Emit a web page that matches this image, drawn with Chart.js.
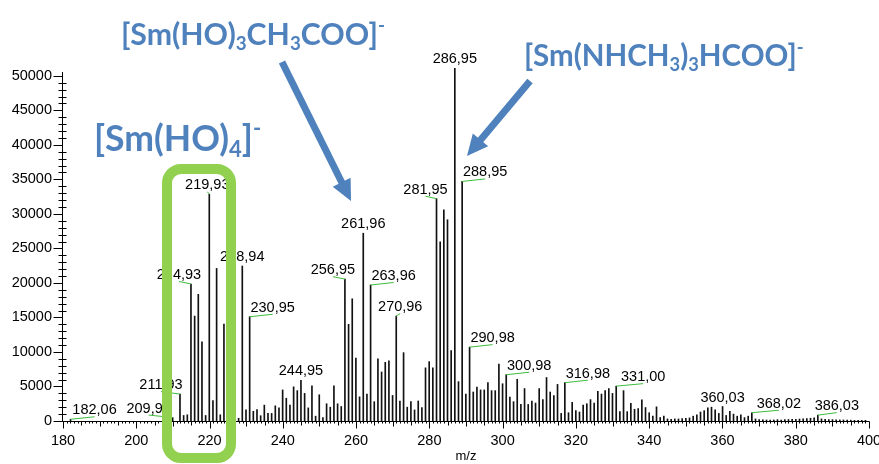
<!DOCTYPE html>
<html>
<head>
<meta charset="utf-8">
<script src="https://cdn.jsdelivr.net/npm/chart.js@4.4.1/dist/chart.umd.min.js"></script>
<style>
  html, body { margin: 0; padding: 0; background: #fff; }
  #wrap { width: 879px; height: 464px; }
</style>
</head>
<body>
<div id="wrap"><canvas id="spectrum" width="879" height="464"></canvas></div>
<script>
// m/z of each stick and its intensity
const mz = [
  182.06, 209.93, 211.93, 212.93, 213.93, 214.93, 215.93, 216.93, 217.93, 218.93,
  219.93, 220.93, 221.93, 222.93, 223.93, 224.93, 225.93, 226.93, 227.93, 228.94,
  229.95, 230.95, 231.95, 232.95, 233.95, 234.95, 235.95, 236.95, 237.95, 238.95,
  239.95, 240.95, 241.95, 242.95, 243.95, 244.95, 245.95, 246.95, 247.95, 248.95,
  249.95, 250.95, 251.95, 252.95, 253.95, 254.95, 255.95, 256.95, 257.95, 258.95,
  259.95, 260.95, 261.96, 262.96, 263.96, 264.96, 265.96, 266.96, 267.96, 268.96,
  269.96, 270.96, 271.96, 272.96, 273.96, 274.96, 275.96, 276.96, 277.96, 278.95,
  279.95, 280.95, 281.95, 282.95, 283.95, 284.95, 285.95, 286.95, 287.95, 288.95,
  289.96, 290.98, 291.98, 292.98, 293.98, 294.98, 295.98, 296.98, 297.98, 298.98,
  299.98, 300.98, 301.98, 302.98, 303.98, 304.98, 305.98, 306.98, 307.98, 308.98,
  309.98, 310.98, 311.98, 312.98, 313.98, 314.98, 315.98, 316.98, 317.98, 318.98,
  319.98, 320.98, 321.98, 322.98, 323.98, 324.98, 325.98, 326.98, 327.98, 328.98,
  329.98, 331.00, 332.00, 333.00, 334.00, 335.00, 336.00, 337.00, 338.00, 339.00,
  340.00, 341.00, 342.00, 343.00, 344.00, 345.00, 346.00, 347.00, 348.00, 349.00,
  350.01, 351.01, 352.01, 353.01, 354.01, 355.01, 356.01, 357.01, 358.01, 359.01,
  360.03, 361.02, 362.02, 363.02, 364.02, 365.02, 366.02, 367.02, 368.02, 369.02,
  370.02, 371.02, 372.02, 373.02, 374.02, 375.02, 376.02, 377.02, 378.02, 379.02,
  380.03, 381.03, 382.03, 383.03, 384.03, 385.03, 386.03, 387.03, 388.03, 389.03,
  390.03, 391.03, 392.03, 393.03, 394.03, 395.03, 396.03, 397.03, 398.03, 399.03
];
const intensity = [
  250, 500, 3900, 800, 900, 19850, 15200, 18350, 11450, 800,
  32850, 2950, 22100, 900, 14050, 600, 1000, 500, 400, 22450,
  1600, 15100, 1400, 1650, 770, 2300, 1100, 1100, 2200, 1900,
  4500, 3300, 2300, 4950, 4400, 5900, 4000, 1900, 5100, 700,
  3800, 500, 2500, 2000, 5100, 2500, 2100, 20550, 14000, 17700,
  9100, 3500, 27200, 3900, 19700, 2800, 9000, 7100, 8500, 8700,
  3700, 15200, 2900, 9900, 2000, 2800, 1600, 2900, 1950, 7700,
  8600, 7700, 32200, 25950, 30600, 29150, 10200, 51100, 5700, 34700,
  3900, 10700, 4200, 4900, 4500, 4500, 5550, 4400, 4400, 8250,
  5400, 6700, 3450, 2800, 6050, 2400, 4700, 2400, 2900, 2600,
  4700, 3100, 6300, 4200, 3700, 5300, 1100, 5550, 1200, 2700,
  1500, 1300, 2300, 2500, 3100, 2600, 4300, 3900, 4400, 4700,
  4000, 5050, 1350, 4400, 1350, 2550, 1700, 1800, 3050, 1950,
  1200, 700, 2050, 500, 700, 300, 250, 300, 300, 350,
  400, 450, 700, 900, 1300, 1500, 1900, 2000, 1600, 1100,
  2100, 800, 1400, 1000, 700, 900, 500, 700, 1200, 300,
  200, 180, 150, 150, 150, 200, 150, 200, 220, 250,
  250, 280, 300, 350, 400, 450, 850, 300, 250, 200,
  200, 180, 150, 150, 150, 120, 100, 100, 100, 100
];

// peaks that carry an m/z label
const labelledMz = [182.06, 209.93, 211.93, 214.93, 219.93, 228.94, 230.95, 244.95, 256.95, 261.96, 263.96,
                    270.96, 281.95, 286.95, 288.95, 290.98, 300.98, 316.98, 331.00, 360.03, 368.02, 386.03];

const xTickLabels = [180, 200, 220, 240, 260, 280, 300, 320, 340, 360, 380, 400];
const yTickLabels = [0, 5000, 10000, 15000, 20000, 25000, 30000, 35000, 40000, 45000, 50000];

// layout: horizontal shift of each label from its stick (px); 0 = straight above, no leader
const labelShift = [24, -24, -19, -12, -2, 0, 23, 0, -12, 0, 23, 4, -11, 0, 23, 23, 23, 23, 27, 0, 27, 19];

const BLUE = '#4F81BD';
const GREEN_BOX = '#92D050';
const LEADER = '#3DBB3D';
const AXIS_FONT = '"Liberation Sans", Arial, sans-serif';

function drawFormula(ctx, parts, x, baseline, width) {
  // scale font so that the text up to the closing bracket spans `width`
  const fam = 'Lato, "Open Sans", sans-serif';
  const measure = size => {
    let w = 0;
    parts.forEach(([t, k]) => {
      if (k === 'sup') return;
      ctx.font = `bold ${k === 'n' ? size : size * 0.62}px ${fam}`;
      w += ctx.measureText(t).width;
    });
    return w;
  };
  const size = 100 * width / measure(100);
  let cx = x;
  ctx.fillStyle = BLUE;
  ctx.textAlign = 'left';
  ctx.textBaseline = 'alphabetic';
  parts.forEach(([t, k]) => {
    const s = k === 'n' ? size : size * 0.62;
    ctx.font = `bold ${s}px ${fam}`;
    const dy = k === 'sub' ? size * 0.17 : (k === 'sup' ? -size * 0.42 : 0);
    ctx.fillText(t, cx, baseline + dy);
    cx += ctx.measureText(t).width;
  });
}

function drawArrow(ctx, x1, y1, x2, y2) {
  const ang = Math.atan2(y2 - y1, x2 - x1);
  const headLen = 21, headW = 10;
  const bx = x2 - headLen * Math.cos(ang), by = y2 - headLen * Math.sin(ang);
  ctx.strokeStyle = BLUE;
  ctx.fillStyle = BLUE;
  ctx.lineWidth = 7;
  ctx.lineCap = 'butt';
  ctx.beginPath();
  ctx.moveTo(x1, y1);
  ctx.lineTo(bx + 2 * Math.cos(ang), by + 2 * Math.sin(ang));
  ctx.stroke();
  ctx.beginPath();
  ctx.moveTo(x2, y2);
  ctx.lineTo(bx + headW * Math.sin(ang), by - headW * Math.cos(ang));
  ctx.lineTo(bx - headW * Math.sin(ang), by + headW * Math.cos(ang));
  ctx.closePath();
  ctx.fill();
}

const overlay = {
  id: 'overlay',
  afterDraw(chart) {
    const ctx = chart.ctx;
    const xs = chart.scales.x, ys = chart.scales.y;
    ctx.save();

    // axes with ruler ticks
    const y0 = Math.round(ys.getPixelForValue(0)) + 0.5;
    const x0 = Math.round(xs.getPixelForValue(180)) - 0.5;
    ctx.strokeStyle = '#000';
    ctx.lineWidth = 1;
    ctx.beginPath();
    ctx.moveTo(x0, y0);
    ctx.lineTo(Math.round(xs.getPixelForValue(400)) + 0.5, y0);
    ctx.moveTo(x0, y0);
    ctx.lineTo(x0, Math.round(ys.getPixelForValue(50000)) - 4);
    for (let m = 180; m <= 400; m++) {
      const px = Math.round(xs.getPixelForValue(m)) + 0.5;
      const len = m % 20 === 0 ? 7 : (m % 10 === 0 ? 5 : (m % 5 === 0 ? 4 : 2));
      ctx.moveTo(px, y0);
      ctx.lineTo(px, y0 + len);
    }
    for (let v = 0; v <= 50000; v += 1000) {
      const py = Math.round(ys.getPixelForValue(v)) + 0.5;
      if (v % 5000 === 0) {
        ctx.moveTo(x0 - 9, py);
        ctx.lineTo(x0, py);
      } else {
        ctx.moveTo(x0 - 4, py);
        ctx.lineTo(x0 + 4, py);
      }
    }
    ctx.stroke();

    // peak labels with green leaders
    ctx.font = `14.5px ${AXIS_FONT}`;
    ctx.textAlign = 'center';
    ctx.textBaseline = 'middle';
    labelledMz.forEach((m, i) => {
      const val = intensity[mz.indexOf(m)];
      const px = xs.getPixelForValue(m);
      const py = ys.getPixelForValue(val);
      const dx = labelShift[i];
      if (dx !== 0) {
        ctx.strokeStyle = LEADER;
        ctx.lineWidth = 1;
        ctx.beginPath();
        ctx.moveTo(px, py);
        ctx.lineTo(px + dx, py - 2.5);
        ctx.stroke();
      }
      ctx.fillStyle = '#000';
      ctx.fillText(m.toFixed(2).replace('.', ','), px + dx, py - 9);
    });

    // green highlight box around the [Sm(HO)4]- cluster
    const bx = 167, by = 169, bw = 64, bh = 289, r = 14;
    ctx.strokeStyle = GREEN_BOX;
    ctx.lineWidth = 10;
    ctx.beginPath();
    ctx.moveTo(bx + r, by);
    ctx.arcTo(bx + bw, by, bx + bw, by + bh, r);
    ctx.arcTo(bx + bw, by + bh, bx, by + bh, r);
    ctx.arcTo(bx, by + bh, bx, by, r);
    ctx.arcTo(bx, by, bx + bw, by, r);
    ctx.closePath();
    ctx.stroke();

    // species annotations
    drawFormula(ctx, [['[Sm(HO)', 'n'], ['3', 'sub'], ['CH', 'n'], ['3', 'sub'], ['COO]', 'n'], ['-', 'sup']], 121, 45, 257);
    drawFormula(ctx, [['[Sm(HO)', 'n'], ['4', 'sub'], [']', 'n'], ['-', 'sup']], 94, 151, 159);
    drawFormula(ctx, [['[Sm(NHCH', 'n'], ['3', 'sub'], [')', 'n'], ['3', 'sub'], ['HCOO]', 'n'], ['-', 'sup']], 524, 66, 273);

    drawArrow(ctx, 282, 62, 351, 201);
    drawArrow(ctx, 530, 81, 467, 156);

    ctx.restore();
  }
};

new Chart(document.getElementById('spectrum'), {
  type: 'bar',
  data: {
    datasets: [{
      data: mz.map((m, i) => ({ x: m, y: intensity[i] })),
      backgroundColor: '#111',
      borderWidth: 0,
      barThickness: 1
    }]
  },
  options: {
    responsive: false,
    animation: false,
    layout: { padding: { top: 62, right: 10, bottom: 0, left: 0 } },
    plugins: {
      legend: { display: false },
      tooltip: { enabled: false }
    },
    scales: {
      x: {
        type: 'linear',
        min: 180,
        max: 400,
        offset: false,
        grid: { display: false, drawTicks: false },
        border: { display: false },
        afterBuildTicks: s => { s.ticks = xTickLabels.map(v => ({ value: v })); },
        afterFit: s => { s.height = 43; s.paddingLeft = 0; s.paddingRight = 0; },
        ticks: {
          padding: 11,
          color: '#000',
          font: { family: AXIS_FONT, size: 14.5 },
          maxRotation: 0,
          autoSkip: false,
          callback: v => String(v)
        },
        title: {
          display: true,
          text: 'm/z',
          color: '#000',
          font: { family: AXIS_FONT, size: 13 },
          padding: { top: 0, bottom: 0 }
        }
      },
      y: {
        min: 0,
        max: 52000,
        grid: { display: false, drawTicks: false },
        border: { display: false },
        afterBuildTicks: s => { s.ticks = yTickLabels.map(v => ({ value: v })); },
        afterFit: s => { s.width = 63; },
        ticks: {
          padding: 11,
          color: '#000',
          font: { family: AXIS_FONT, size: 14.5 },
          callback: v => String(v)
        }
      }
    }
  },
  plugins: [overlay]
});
</script>
</body>
</html>
